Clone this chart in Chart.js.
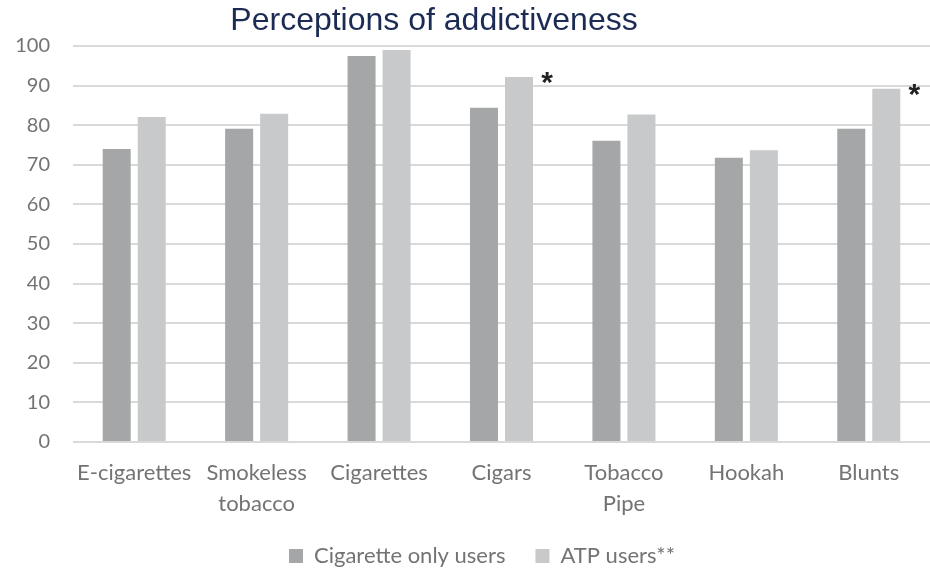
<!DOCTYPE html>
<html>
<head>
<meta charset="utf-8">
<script src="https://cdn.jsdelivr.net/npm/chart.js@4/dist/chart.umd.min.js"></script>
<style>
  body { margin: 0; background: #fff; }
  .wrap { position: relative; width: 930px; height: 569px; }
  .chart-title {
    position: absolute; left: 0; top: 1px; width: 868px;
    text-align: center; font: 32px "Liberation Sans", Arial, sans-serif;
    color: #1c2b54;
  }
</style>
</head>
<body>
<div class="wrap">
  <canvas id="addictChart" width="930" height="569"></canvas>
  <div class="chart-title">Perceptions of addictiveness</div>
</div>
<script>
//// data
const categories = ["E-cigarettes", ["Smokeless", "tobacco"], "Cigarettes", "Cigars", ["Tobacco", "Pipe"], "Hookah", "Blunts"];
const cigaretteOnlyUsers = [74.0, 79.1, 97.5, 84.4, 76.1, 71.8, 79.1];
const atpUsers = [82.1, 82.9, 99.0, 92.2, 82.7, 73.7, 89.2];
const starredIndexes = [3, 6]; // Cigars, Blunts get a "*" on the ATP bar
const yMin = 0;
const yMax = 100;
const yStep = 10;

const textGray = "#737373";

// draws the asterisks next to the ATP bars
const asteriskPlugin = {
  id: "asterisks",
  afterLayout(chart) {
    // legend sits a bit right of centre in the original
    chart.legend.left += 17;
    chart.legend.right += 17;
  },
  afterDatasetsDraw(chart) {
    const ctx = chart.ctx;
    const meta = chart.getDatasetMeta(1);
    ctx.save();
    ctx.fillStyle = "#222";
    ctx.font = "bold 30px 'Liberation Sans', Arial, sans-serif";
    ctx.textAlign = "center";
    ctx.textBaseline = "alphabetic";
    starredIndexes.forEach((i) => {
      const bar = meta.data[i];
      ctx.fillText("*", bar.x + bar.width / 2 + 14, bar.y + 15);
    });
    ctx.restore();
  }
};

const ctx = document.getElementById("addictChart").getContext("2d");
new Chart(ctx, {
  type: "bar",
  data: {
    labels: categories,
    datasets: [
      {
        label: "Cigarette only users",
        data: cigaretteOnlyUsers,
        backgroundColor: "#a5a6a7"
      },
      {
        label: "ATP users**",
        data: atpUsers,
        backgroundColor: "#c8c9ca"
      }
    ]
  },
  options: {
    responsive: false,
    animation: false,
    categoryPercentage: 0.572,
    barPercentage: 0.8,
    layout: { padding: { top: 46, left: 0, right: 0, bottom: -8 } },
    plugins: {
      title: { display: false },
      tooltip: { enabled: false },
      legend: {
        position: "bottom",
        labels: {
          color: textGray,
          font: { family: "Lato", size: 22 },
          boxWidth: 14,
          boxHeight: 14,
          padding: 30
        }
      }
    },
    scales: {
      x: {
        grid: { display: false },
        border: { display: false },
        ticks: {
          color: textGray,
          font: { family: "Lato", size: 22, lineHeight: 1.4 },
          padding: 8,
          maxRotation: 0,
          autoSkip: false
        },
        afterFit(scale) { scale.height = 73; }
      },
      y: {
        min: yMin,
        max: yMax,
        grid: { color: "#d9d9d9", lineWidth: 2, drawTicks: false },
        border: { display: false },
        ticks: {
          stepSize: yStep,
          color: textGray,
          font: { family: "Lato", size: 20 },
          padding: 23
        },
        afterFit(scale) { scale.width = 73; }
      }
    }
  },
  plugins: [asteriskPlugin]
});
</script>
</body>
</html>
